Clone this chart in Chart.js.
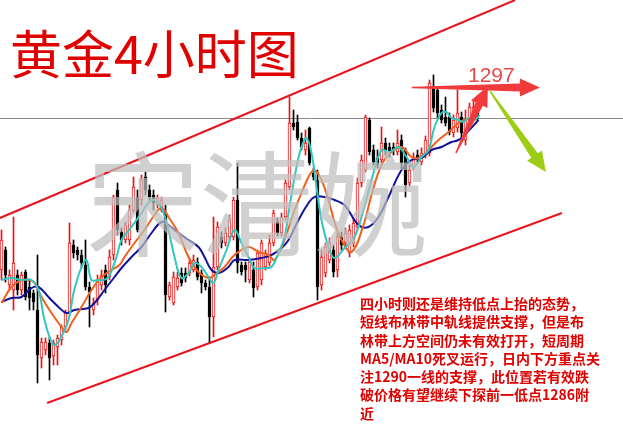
<!DOCTYPE html>
<html lang="zh">
<head>
    <meta charset="UTF-8">
    <title>黄金4小时图</title>
    <script src="https://cdn.jsdelivr.net/npm/chart.js"></script>
    <style>
        body {
            margin: 0;
            background: #ffffff;
        }

        #wrap {
            position: relative;
            width: 623px;
            height: 446px;
            overflow: hidden;
        }

        #chart {
            position: absolute;
            left: 0;
            top: 0;
        }

        .title {
            position: absolute;
            left: 10px;
            top: 26px;
            font-family: 'Noto Sans CJK SC', sans-serif;
            font-size: 52px;
            line-height: 52px;
            color: #e00000;
            white-space: nowrap;
        }

        .watermark {
            position: absolute;
            left: 86px;
            top: 141px;
            font-family: 'Noto Sans CJK SC', sans-serif;
            font-size: 114px;
            line-height: 114px;
            color: rgba(190, 190, 190, 0.72);
            white-space: nowrap;
            pointer-events: none;
        }

        .price-tag {
            position: absolute;
            left: 468px;
            top: 64px;
            font-family: 'Liberation Sans', Arial, sans-serif;
            font-size: 21px;
            line-height: 21px;
            color: #e84848;
        }

        .note {
            position: absolute;
            left: 360px;
            top: 294px;
            font-family: 'Noto Sans CJK SC', sans-serif;
            font-weight: bold;
            font-size: 14px;
            line-height: 18.3px;
            color: #e00000;
            white-space: nowrap;
        }
    </style>
</head>
<body>
    <div id="wrap">
        <canvas id="chart" width="623" height="446"></canvas>
        <div class="watermark">宋清婉</div>
        <div class="title">黄金4小时图</div>
        <div class="price-tag">1297</div>
        <div class="note">
            四小时则还是维持低点上抬的态势，<br>
            短线布林带中轨线提供支撑，但是布<br>
            林带上方空间仍未有效打开，短周期<br>
            MA5/MA10死叉运行，日内下方重点关<br>
            注1290一线的支撑，此位置若有效跌<br>
            破价格有望继续下探前一低点1286附<br>
            近
        </div>
    </div>

    <script>
        // 4h candles, one per bar index (0 = oldest)
        const openP = [
            1279.0, 1281.0, 1277.5, 1277.0, 1278.5, 1277.0, 1278.8, 1277.3, 1276.7, 1275.0,
            1270.2, 1271.0, 1271.7, 1270.4, 1271.3, 1272.0, 1273.3, 1274.7, 1281.5, 1281.0,
            1280.5, 1279.5, 1277.3, 1275.0, 1276.0, 1277.5, 1279.0, 1278.3, 1280.5, 1287.0,
            1282.8, 1282.0, 1282.0, 1285.0, 1286.3, 1286.0, 1288.3, 1287.0, 1286.5, 1285.5,
            1285.0, 1284.8, 1276.3, 1275.7, 1277.3, 1278.7, 1278.7, 1278.7, 1279.0, 1279.8,
            1278.7, 1277.7, 1277.3, 1274.3, 1279.3, 1282.3, 1281.7, 1282.3, 1282.3, 1286.0,
            1279.5, 1279.5, 1278.0, 1279.0, 1277.3, 1278.0, 1279.3, 1279.7, 1281.7, 1283.8,
            1282.7, 1284.3, 1287.3, 1293.7, 1293.8, 1292.2, 1291.0, 1293.2, 1288.7, 1288.0,
            1277.5, 1278.7, 1280.0, 1281.0, 1279.0, 1282.3, 1281.7, 1280.7, 1281.7, 1283.3,
            1287.7, 1289.0, 1294.0, 1291.0, 1290.2, 1290.0, 1291.7, 1291.3, 1291.3, 1290.8,
            1292.0, 1291.0, 1287.7, 1289.3, 1290.5, 1289.8, 1290.5, 1290.7, 1297.3, 1297.0,
            1295.0, 1294.3, 1294.3, 1292.7, 1293.2, 1294.3, 1292.0, 1294.0, 1294.7, 1295.0
        ];
        const highP = [
            1283.0, 1281.3, 1279.0, 1284.3, 1279.0, 1278.8, 1279.0, 1278.0, 1277.0, 1280.5,
            1272.2, 1272.2, 1272.3, 1272.0, 1272.5, 1273.5, 1275.0, 1283.7, 1282.0, 1281.3,
            1281.0, 1282.0, 1277.8, 1276.2, 1278.5, 1279.0, 1279.5, 1281.0, 1286.5, 1287.7,
            1283.2, 1283.8, 1285.5, 1288.3, 1287.0, 1288.5, 1288.8, 1287.5, 1287.0, 1286.5,
            1286.3, 1285.5, 1277.8, 1278.8, 1278.8, 1279.2, 1279.2, 1280.2, 1280.5, 1280.2,
            1279.0, 1278.0, 1278.3, 1284.3, 1283.8, 1282.8, 1283.2, 1284.5, 1286.3, 1289.7,
            1279.8, 1279.8, 1280.2, 1279.8, 1281.0, 1282.0, 1281.0, 1282.5, 1285.0, 1284.2,
            1284.7, 1288.0, 1296.3, 1295.0, 1294.5, 1292.7, 1293.0, 1293.3, 1289.2, 1289.0,
            1281.0, 1281.7, 1282.2, 1281.5, 1282.7, 1282.8, 1283.2, 1283.5, 1284.2, 1288.2,
            1290.5, 1294.5, 1294.2, 1291.5, 1291.0, 1293.3, 1292.2, 1291.7, 1291.7, 1293.0,
            1292.5, 1291.2, 1289.5, 1290.7, 1291.0, 1291.2, 1292.4, 1298.0, 1298.5, 1297.2,
            1295.5, 1296.3, 1294.7, 1294.5, 1297.0, 1294.8, 1295.0, 1295.7, 1296.0, 1295.5
        ];
        const lowP = [
            1278.0, 1277.8, 1277.0, 1275.0, 1276.5, 1276.5, 1276.0, 1275.0, 1275.0, 1267.7,
            1269.2, 1270.5, 1268.0, 1269.5, 1269.5, 1271.5, 1273.0, 1274.5, 1280.2, 1280.0,
            1279.2, 1277.0, 1273.3, 1274.5, 1275.5, 1277.0, 1276.7, 1278.0, 1280.0, 1282.5,
            1281.5, 1281.7, 1281.5, 1284.8, 1282.8, 1285.5, 1286.5, 1286.0, 1285.0, 1285.2,
            1284.8, 1274.8, 1276.0, 1275.5, 1277.0, 1277.4, 1277.8, 1278.4, 1278.8, 1278.0,
            1276.7, 1277.0, 1271.7, 1272.3, 1279.0, 1281.2, 1281.4, 1282.0, 1282.0, 1278.7,
            1278.5, 1277.8, 1277.7, 1276.3, 1277.0, 1277.5, 1279.0, 1279.4, 1281.4, 1282.4,
            1282.4, 1284.0, 1287.0, 1293.0, 1292.0, 1291.0, 1290.5, 1289.5, 1288.0, 1276.0,
            1277.0, 1278.3, 1279.7, 1278.3, 1278.3, 1281.0, 1281.3, 1280.3, 1281.3, 1283.0,
            1287.3, 1288.8, 1290.5, 1289.5, 1289.2, 1289.7, 1290.5, 1290.3, 1290.5, 1290.5,
            1289.0, 1286.3, 1287.4, 1289.0, 1289.7, 1289.5, 1290.2, 1290.4, 1294.8, 1294.2,
            1293.7, 1293.4, 1292.5, 1292.3, 1292.8, 1292.0, 1291.5, 1293.7, 1294.4, 1294.0
        ];
        const closeP = [
            1282.0, 1278.5, 1278.5, 1279.7, 1277.0, 1278.5, 1276.3, 1276.2, 1275.8, 1270.5,
            1271.8, 1271.8, 1270.2, 1271.7, 1272.2, 1273.3, 1274.7, 1281.7, 1280.7, 1280.5,
            1279.7, 1277.3, 1276.8, 1275.7, 1278.0, 1278.5, 1277.5, 1280.3, 1286.3, 1283.0,
            1282.0, 1283.5, 1285.0, 1287.3, 1283.0, 1288.0, 1287.0, 1286.3, 1285.7, 1286.2,
            1286.0, 1276.5, 1277.5, 1278.3, 1278.2, 1277.7, 1278.2, 1279.7, 1280.0, 1278.3,
            1277.7, 1277.3, 1274.3, 1279.3, 1283.3, 1281.7, 1282.7, 1284.0, 1286.0, 1279.7,
            1278.8, 1279.0, 1279.8, 1277.2, 1280.7, 1281.7, 1280.7, 1281.7, 1284.7, 1282.7,
            1284.3, 1287.7, 1293.7, 1293.3, 1292.2, 1291.3, 1291.7, 1289.7, 1288.3, 1277.3,
            1280.3, 1281.3, 1281.7, 1278.8, 1282.3, 1281.5, 1282.7, 1283.0, 1283.7, 1287.7,
            1290.0, 1294.3, 1290.8, 1289.8, 1289.5, 1291.7, 1291.0, 1290.8, 1291.0, 1291.7,
            1289.7, 1287.5, 1289.0, 1290.3, 1290.0, 1290.7, 1292.0, 1297.7, 1295.2, 1294.7,
            1294.0, 1293.7, 1292.8, 1294.0, 1294.7, 1292.7, 1294.0, 1295.3, 1295.3, 1294.3
        ];

        // moving averages (bar index, price)
        const ma5Idx = [0, 2.5, 5, 7.5, 9.25, 10.75, 13, 14.5, 16.75, 18, 20, 21.25, 22.5, 24.25, 25.5, 26.75,
            28.75, 30, 32.5, 35, 36.75, 38.25, 40, 41.75, 43.25, 45, 46.75, 48.25, 50, 51.75, 53, 54.25,
            56.25, 58.25, 60, 61.75, 63.25, 65.75, 67.5, 69.25, 70.75, 72, 73.75, 75, 76.25, 77.5, 78.75,
            80, 81.75, 83.25, 85.75, 88.25, 90.5, 92.5, 95, 97, 99.25, 101.25, 103, 105, 106.75, 108.25,
            110, 111.25, 112.5, 114.25, 115.5, 116.75, 118.25, 119.5];
        const ma5Val = [1278.0, 1278.2, 1278.0, 1278.0, 1277.0, 1274.0, 1271.5, 1272.0, 1274.0, 1276.7, 1279.3,
            1280.0, 1278.0, 1278.0, 1278.0, 1278.3, 1280.3, 1282.0, 1283.3, 1284.7, 1285.7, 1286.0, 1285.2,
            1283.0, 1280.3, 1278.2, 1278.7, 1279.7, 1279.3, 1278.3, 1277.7, 1279.0, 1281.0, 1283.0, 1281.7,
            1280.3, 1279.2, 1279.2, 1279.3, 1280.7, 1282.3, 1285.3, 1289.3, 1291.3, 1292.2, 1290.7, 1287.3,
            1284.0, 1281.3, 1280.2, 1281.2, 1282.3, 1285.0, 1288.0, 1291.0, 1290.8, 1291.3, 1290.3, 1289.3,
            1290.3, 1291.0, 1293.3, 1294.7, 1294.8, 1294.2, 1294.0, 1293.8, 1294.2, 1294.0, 1294.5];

        const ma10Idx = [0, 2.5, 5, 7, 8.25, 10, 12.5, 15, 16.25, 17.5, 20, 22.5, 25, 27.5, 29.5, 30.75, 33.25,
            35.75, 38.25, 40, 41.75, 44.25, 46.75, 49.25, 51.75, 53.25, 55.75, 58.25, 61.75, 64.25, 66.75,
            68.25, 70.75, 73, 75, 77, 78.25, 80, 81.75, 83.25, 85, 87.5, 90.5, 92.5, 95, 97.5, 100, 102.5,
            104.25, 106.75, 109.25, 111.75, 114.25, 115.75, 119.25];
        const ma10Val = [1275.7, 1277.3, 1278.0, 1278.0, 1277.7, 1276.3, 1274.7, 1273.3, 1272.8, 1273.7, 1275.3,
            1277.0, 1278.3, 1279.0, 1279.5, 1280.3, 1281.7, 1283.0, 1284.5, 1285.2, 1284.3, 1282.7, 1280.3,
            1278.8, 1278.2, 1278.5, 1279.3, 1280.5, 1281.3, 1280.8, 1280.5, 1280.0, 1282.0, 1284.7, 1286.7,
            1288.5, 1289.0, 1288.0, 1286.0, 1283.8, 1282.0, 1280.8, 1283.5, 1286.5, 1289.5, 1290.8, 1291.3,
            1290.3, 1290.2, 1291.0, 1292.0, 1292.8, 1293.7, 1294.0, 1294.3];

        const ma30Idx = [0, 2.5, 5, 7.5, 9.25, 11.75, 14.25, 16.25, 18.25, 21.75, 23.25, 25.75, 28.25, 30, 32.5,
            35, 37.5, 40, 41.75, 44.25, 46.75, 49.25, 50.75, 52.5, 54.25, 56.75, 58.25, 61.75, 65, 67.5, 70,
            71.75, 74.25, 76.75, 78.25, 80.75, 83.25, 85.75, 89.25, 91.75, 94.25, 96.75, 100, 102.5, 105,
            107.5, 110, 112.5, 114.25, 115.75, 119.25];
        const ma30Val = [1275.8, 1276.2, 1276.3, 1277.2, 1277.3, 1276.3, 1275.3, 1274.7, 1275.0, 1275.2, 1275.7,
            1277.0, 1278.3, 1279.2, 1280.3, 1281.3, 1282.7, 1283.8, 1283.5, 1282.7, 1282.0, 1281.3, 1280.3,
            1279.0, 1278.7, 1279.3, 1280.0, 1280.0, 1280.2, 1280.5, 1281.2, 1282.0, 1284.0, 1285.7, 1286.3,
            1286.3, 1286.0, 1285.5, 1283.5, 1283.3, 1284.3, 1286.3, 1289.0, 1290.0, 1290.2, 1291.0, 1291.3,
            1291.8, 1292.0, 1292.5, 1294.0];

        // rising channel: [start, end] for each border
        const upperIdx = [-0.4, 128.4];
        const upperVal = [1284.2, 1306.0];
        const lowerIdx = [11.4, 140.1];
        const lowerVal = [1265.7, 1284.7];
        const levelIdx = [-0.4, 155.4];
        const levelVal = [1294.15, 1294.15];

        // hand-drawn arrows: flat 1297 target, the push up and the expected drop
        const arrowTailIdx = [102.6, 113.6, 122.1];
        const arrowTailVal = [1297.25, 1290.7, 1296.9];
        const arrowTipIdx = [134.6, 121.6, 136.1];
        const arrowTipVal = [1297.25, 1297.4, 1288.8];
        const arrowColors = ['#ef3b3b', '#ef3b3b', '#9ccc14'];

        const UP = '#ee1111';
        const DOWN = '#000000';

        const bars = openP.map((o, i) => i);
        const isUp = bars.map(i => closeP[i] >= openP[i]);

        const bodyData = bars.map(i => ({ x: i, y: [openP[i], closeP[i]] }));
        const wickData = bars.map(i => ({ x: i, y: [lowP[i], highP[i]] }));

        function toPoints(xs, ys) {
            return xs.map((x, i) => ({ x: x, y: ys[i] }));
        }

        function lineSet(xs, ys, color, width, tension) {
            return {
                type: 'line',
                data: toPoints(xs, ys),
                borderColor: color,
                borderWidth: width,
                pointRadius: 0,
                tension: tension,
                fill: false
            };
        }

        // tapered arrow, thin at the tail and with a wide head
        function drawArrow(ctx, x0, y0, x1, y1, color) {
            const len = Math.hypot(x1 - x0, y1 - y0);
            const dx = (x1 - x0) / len, dy = (y1 - y0) / len;
            const nx = -dy, ny = dx;
            const headLen = 20, headW = 9, neckW = 4, tailW = 0.7;
            const bx = x1 - dx * headLen, by = y1 - dy * headLen;
            ctx.beginPath();
            ctx.moveTo(x0 + nx * tailW, y0 + ny * tailW);
            ctx.lineTo(bx + nx * neckW, by + ny * neckW);
            ctx.lineTo(bx + nx * headW, by + ny * headW);
            ctx.lineTo(x1, y1);
            ctx.lineTo(bx - nx * headW, by - ny * headW);
            ctx.lineTo(bx - nx * neckW, by - ny * neckW);
            ctx.lineTo(x0 - nx * tailW, y0 - ny * tailW);
            ctx.closePath();
            ctx.fillStyle = color;
            ctx.fill();
        }

        const arrowPlugin = {
            id: 'arrows',
            afterDatasetsDraw(chart) {
                const ctx = chart.ctx;
                const xs = chart.scales.x, ys = chart.scales.y;
                ctx.save();
                arrowTailIdx.forEach((t, i) => {
                    drawArrow(ctx,
                        xs.getPixelForValue(t), ys.getPixelForValue(arrowTailVal[i]),
                        xs.getPixelForValue(arrowTipIdx[i]), ys.getPixelForValue(arrowTipVal[i]),
                        arrowColors[i]);
                });
                ctx.restore();
            }
        };

        new Chart(document.getElementById('chart'), {
            type: 'bar',
            data: {
                datasets: [
                    lineSet(upperIdx, upperVal, '#e8141e', 2, 0),
                    lineSet(lowerIdx, lowerVal, '#e8141e', 2, 0),
                    lineSet(ma5Idx, ma5Val, '#2ec8c0', 2, 0.4),
                    lineSet(ma10Idx, ma10Val, '#f2601e', 2, 0.4),
                    lineSet(ma30Idx, ma30Val, '#12129a', 2, 0.4),
                    {
                        data: bodyData,
                        backgroundColor: bars.map(i => isUp[i] ? '#ffffff' : DOWN),
                        borderColor: bars.map(i => isUp[i] ? UP : DOWN),
                        borderWidth: 1,
                        borderSkipped: false,
                        barThickness: 3,
                        minBarLength: 1,
                        grouped: false
                    },
                    {
                        data: wickData,
                        backgroundColor: bars.map(i => isUp[i] ? UP : DOWN),
                        borderWidth: 0,
                        barThickness: 1,
                        grouped: false
                    },
                    lineSet(levelIdx, levelVal, '#8a8a8a', 1, 0)
                ]
            },
            options: {
                responsive: false,
                maintainAspectRatio: false,
                animation: false,
                events: [],
                layout: { padding: 0 },
                plugins: {
                    legend: { display: false },
                    tooltip: { enabled: false }
                },
                scales: {
                    x: {
                        type: 'linear',
                        display: false,
                        offset: false,
                        min: -0.375,
                        max: 155.375
                    },
                    y: {
                        display: false,
                        min: 1261.4,
                        max: 1306
                    }
                }
            },
            plugins: [arrowPlugin]
        });
    </script>
</body>
</html>
